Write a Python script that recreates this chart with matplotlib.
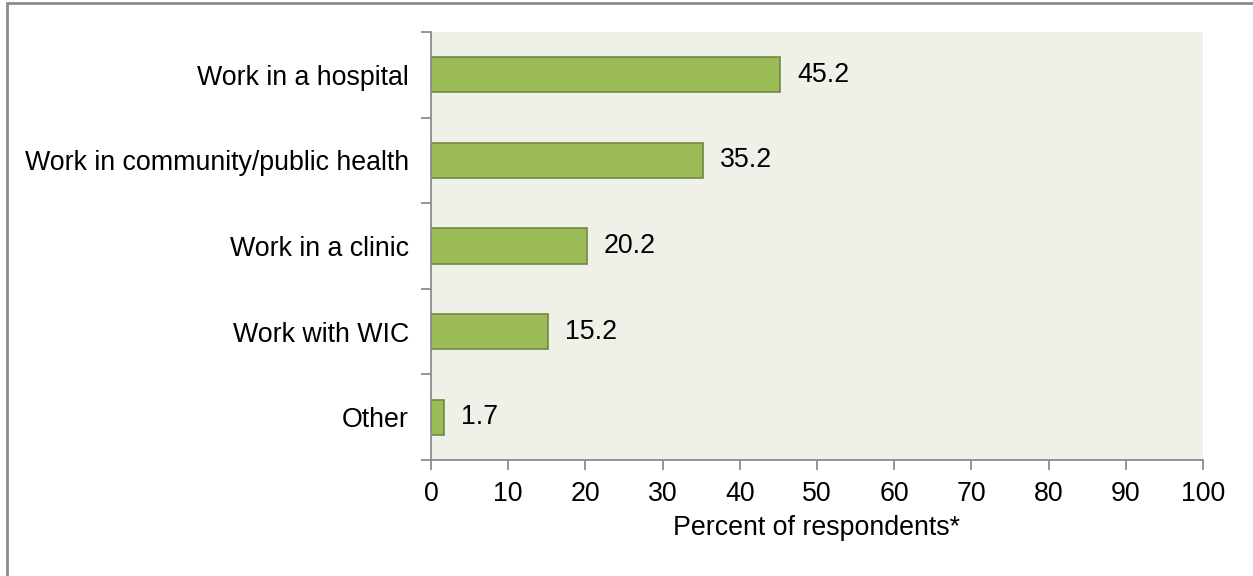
"""Recreate horizontal bar chart of respondents' work settings."""

import matplotlib
matplotlib.use("Agg")

import matplotlib.pyplot as plt
from matplotlib.patches import Rectangle

categories = [
    "Work in a hospital",
    "Work in community/public health",
    "Work in a clinic",
    "Work with WIC",
    "Other",
]
values = [45.2, 35.2, 20.2, 15.2, 1.7]
x_ticks = list(range(0, 101, 10))

BAR_COLOR = "#9BBB59"
EDGE_COLOR = "#71893F"
BG_COLOR = "#EFF1E8"
SPINE_COLOR = "#8C8C8C"
FS = 19.3

plt.rcParams["font.family"] = ["Liberation Sans", "DejaVu Sans"]

fig = plt.figure(figsize=(12.53, 5.76), dpi=100)
ax = fig.add_axes([0.344, 0.2014, 0.616, 0.743])

# outer frame (right and bottom edges run off the image)
fig.patches.append(Rectangle((7 / 1253, -0.02), 1.0, 573 / 576 + 0.02,
                             transform=fig.transFigure, fill=False,
                             edgecolor=SPINE_COLOR, linewidth=2))

ypos = list(range(len(categories)))
ax.barh(ypos, values, height=0.41, color=BAR_COLOR, edgecolor=EDGE_COLOR,
        linewidth=1.2)
for y, v in zip(ypos, values):
    ax.text(v + 2.2, y, f"{v:.1f}", va="center", ha="left", fontsize=FS)

ax.set_xlim(0, 100)
ax.set_ylim(len(categories) - 0.5, -0.5)
ax.set_facecolor(BG_COLOR)

ax.set_xticks(x_ticks)
ax.set_xticklabels([str(t) for t in x_ticks], fontsize=FS)
ax.set_yticks(ypos)
ax.set_yticklabels(categories, fontsize=FS)
ax.tick_params(axis="y", length=0, pad=16)
# boundary ticks between categories
ax.set_yticks([i - 0.5 for i in range(len(categories) + 1)], minor=True)
ax.tick_params(axis="y", which="minor", length=7, color=SPINE_COLOR, width=1.3)
ax.tick_params(axis="x", length=7, color=SPINE_COLOR, width=1.3, pad=8)

ax.set_xlabel("Percent of respondents*", fontsize=FS, labelpad=6)

for side in ["top", "right"]:
    ax.spines[side].set_visible(False)
for side in ["left", "bottom"]:
    ax.spines[side].set_color(SPINE_COLOR)
    ax.spines[side].set_linewidth(1.3)

fig.savefig("out.png", dpi=100, facecolor="white")
